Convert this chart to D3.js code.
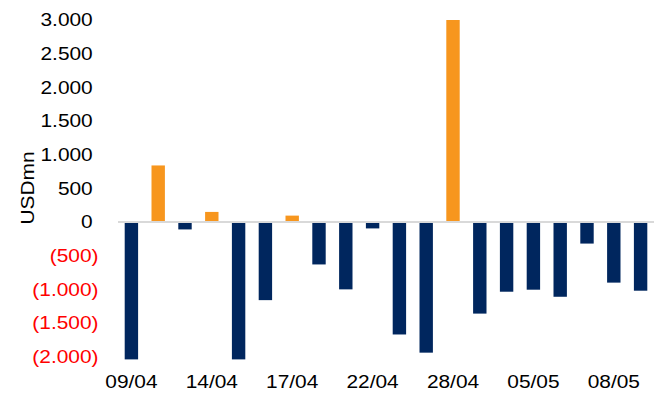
<!DOCTYPE html>
<html><head><meta charset="utf-8">
<script src="https://cdn.jsdelivr.net/npm/d3@7"></script>
<style>body{margin:0;background:#fff;}svg{display:block;font-family:"Liberation Sans",Arial,sans-serif;}</style>
</head><body>
<svg id="c" width="654" height="400"></svg>
<script>
const categories = ["09/04","10/04","11/04","14/04","15/04","16/04","17/04","18/04","21/04","22/04","23/04","24/04","28/04","29/04","02/05","05/05","06/05","07/05","08/05","09/05"];
const values = [-2040, 840, -110, 150, -2040, -1160, 95, -630, -1000, -95, -1670, -1940, 3000, -1360, -1035, -1005, -1110, -320, -900, -1020];
const tickLabels = ["09/04","14/04","17/04","22/04","28/04","05/05","08/05"];
const yTicks = [-2000, -1500, -1000, -500, 0, 500, 1000, 1500, 2000, 2500, 3000];
const yTitle = "USDmn";

const FS = 18, SX = 1.16;
const svg = d3.select("#c");
const x = d3.scaleBand().domain(categories).range([118, 654]).paddingInner(0.5).paddingOuter(0.25);
const y = d3.scaleLinear().domain([-2000, 3000]).range([356.7, 20]);

const fmtNum = v => d3.format(",")(Math.abs(v)).replace(/,/g, ".");
const fmt = v => v < 0 ? "(" + fmtNum(v) + ")" : fmtNum(v);

// bars
svg.append("g").selectAll("rect").data(values).join("rect")
  .attr("x", (d, i) => x(categories[i]))
  .attr("width", x.bandwidth())
  .attr("y", d => y(Math.max(0, d)))
  .attr("height", d => Math.abs(y(d) - y(0)))
  .attr("fill", d => d >= 0 ? "#F7961E" : "#00265E");

// zero line
svg.append("line").attr("x1", 118).attr("x2", 654).attr("y1", y(0)).attr("y2", y(0))
  .attr("stroke", "#d9d9d9").attr("stroke-width", 2);

// y axis labels
const yAxis = d3.axisLeft(y).tickValues(yTicks).tickSize(0).tickPadding(0).tickFormat(fmt);
const gy = svg.append("g").attr("transform", "translate(98.5,0)").call(yAxis);
gy.select(".domain").remove();
gy.selectAll("text")
  .attr("font-size", FS).attr("font-family", "Liberation Sans, Arial, sans-serif")
  .attr("fill", d => d < 0 ? "#FF0000" : "#000")
  .attr("x", d => d < 0 ? 0 : -5)
  .attr("transform", `scale(${SX},1)`);

// x axis labels
const xAxis = d3.axisBottom(x).tickValues(tickLabels).tickSize(0).tickPadding(0);
const gx = svg.append("g").attr("transform", "translate(0,375.5)").call(xAxis);
gx.select(".domain").remove();
gx.selectAll("text").attr("font-size", FS).attr("font-family", "Liberation Sans, Arial, sans-serif")
  .attr("fill", "#000").attr("transform", `scale(${SX},1)`);

// y title
svg.append("text").attr("transform", `translate(34,188) rotate(-90) scale(${SX},1)`)
  .attr("text-anchor", "middle").attr("font-size", FS).attr("fill", "#000").text(yTitle);
</script>
</body></html>
